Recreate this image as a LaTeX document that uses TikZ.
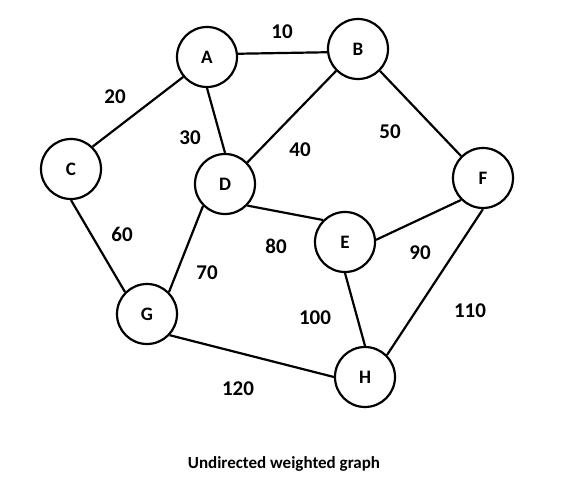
\documentclass[tikz,border=0pt]{standalone}
\usepackage{fontspec}
\setmainfont{Carlito}
\begin{document}
\begin{tikzpicture}[x=1pt,y=-1pt,
  vertex/.style={circle,draw=black,line width=2.2pt,minimum size=60pt,inner sep=0pt,fill=white,font=\fontsize{19}{22}\selectfont\bfseries},
  edge/.style={line width=2.2pt,draw=black},
  weight/.style={font=\fontsize{21}{24}\selectfont\bfseries,inner sep=0pt}]
\useasboundingbox (0,0) rectangle (585,497);
% vertices
\node[vertex] (A) at (207,57) {A};
\node[vertex] (B) at (358,49) {B};
\node[vertex] (C) at (71,169) {C};
\node[vertex] (D) at (225,184) {D};
\node[vertex] (E) at (345,242) {E};
\node[vertex] (F) at (483,178) {F};
\node[vertex] (G) at (147,314) {G};
\node[vertex] (H) at (365,377) {H};
% edges, attached at fixed points on the circles
\draw[edge] (A.6)   -- (B.186);
\draw[edge] (A.220) -- (C.46);
\draw[edge] (A.270) -- (D.90);
\draw[edge] (B.225) -- (D.44);
\draw[edge] (B.315) -- (F.135);
\draw[edge] (C.270) -- (G.135);
\draw[edge] (D.225) -- (G.45);
\draw[edge] (D.316) -- (E.135);
\draw[edge] (E.4)   -- (F.225);
\draw[edge] (E.270) -- (H.90);
\draw[edge] (F.270) -- (H.45);
\draw[edge] (G.317) -- (H.180);
% weights
\node[weight] (w10) at (282,32) {10};
\node[weight] (w20) at (115,97) {20};
\node[weight] (w30) at (190,138) {30};
\node[weight] (w40) at (300,150) {40};
\node[weight] (w50) at (390,132) {50};
\node[weight] (w60) at (122,234) {60};
\node[weight] (w70) at (207,273) {70};
\node[weight] (w80) at (276,246) {80};
\node[weight] (w90) at (420,253) {90};
\node[weight] (w100) at (315,318) {100};
\node[weight] (w110) at (470,311) {110};
\node[weight] (w120) at (238,389) {120};
% caption
\node[font=\fontsize{17}{20}\selectfont\bfseries] (cap) at (284,464) {Undirected weighted graph};
\end{tikzpicture}
\end{document}
